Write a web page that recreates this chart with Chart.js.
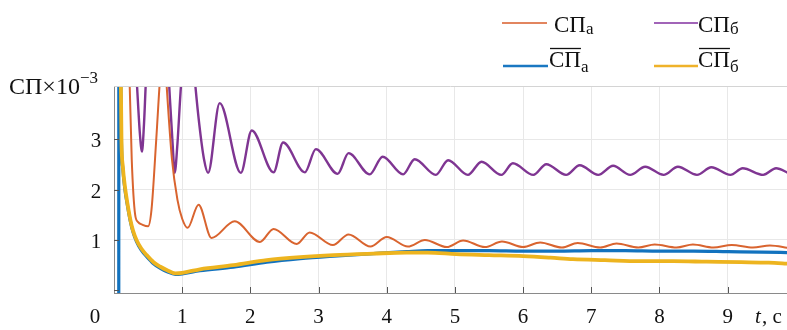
<!DOCTYPE html>
<html>
<head>
<meta charset="utf-8">
<script src="https://cdn.jsdelivr.net/npm/chart.js@4.4.0/dist/chart.umd.min.js"></script>
<style>
  html, body { margin: 0; padding: 0; background: #fff; }
  #grafico { display: block; }
</style>
</head>
<body>
<canvas id="grafico" width="787" height="330"></canvas>
<script>
// СПа (оранжевая)
const tempoSPa = [0.05, 0.2, 0.26, 0.31, 0.35, 0.42, 0.5, 0.55, 0.62, 0.68, 0.73, 0.77, 0.85, 0.93, 1.0, 1.08,
  1.24, 1.43, 1.77, 2.14, 2.34, 2.68, 2.87, 3.21, 3.44, 3.76, 4.0, 4.31, 4.56, 4.88, 5.12, 5.44, 5.69, 6.0,
  6.25, 6.57, 6.8, 7.13, 7.37, 7.69, 7.93, 8.25, 8.49, 8.79, 9.06, 9.37, 9.62, 9.9];
const valoresSPa = [8, 5.5, 2.6, 1.5, 1.36, 1.3, 1.27, 1.6, 3.0, 4.3, 5.0, 4.1, 2.6, 1.8, 1.42, 1.24,
  1.70, 1.04, 1.37, 0.96, 1.22, 0.92, 1.15, 0.90, 1.11, 0.87, 1.06, 0.87, 1.0, 0.86, 0.99, 0.86, 0.97, 0.86,
  0.95, 0.85, 0.94, 0.85, 0.93, 0.85, 0.91, 0.85, 0.91, 0.85, 0.90, 0.85, 0.89, 0.84];

// СПб (фиолетовая)
const tempoSPb = [0.05, 0.3, 0.34, 0.38, 0.41, 0.44, 0.47, 0.55, 0.7, 0.78, 0.82, 0.86, 0.89, 0.93, 0.97, 1.0,
  1.1, 1.19, 1.25, 1.32, 1.38, 1.55, 1.86, 2.02, 2.34, 2.48, 2.8, 2.96, 3.28, 3.44, 3.75, 3.94, 4.24, 4.41,
  4.72, 4.9, 5.19, 5.39, 5.68, 5.85, 6.15, 6.34, 6.63, 6.83, 7.1, 7.32, 7.57, 7.79, 8.06, 8.27, 8.55, 8.76,
  9.04, 9.22, 9.52, 9.71, 9.9];
const valoresSPb = [9, 5, 4.0, 3.1, 2.75, 3.3, 4.2, 5.5, 6, 4.8, 3.8, 2.9, 2.33, 2.9, 3.8, 4.4,
  5.5, 4.1, 3.3, 2.6, 2.33, 3.71, 2.33, 3.17, 2.34, 2.93, 2.34, 2.80, 2.31, 2.72, 2.30, 2.65, 2.30, 2.60,
  2.29, 2.58, 2.29, 2.55, 2.29, 2.52, 2.29, 2.50, 2.29, 2.48, 2.29, 2.47, 2.29, 2.45, 2.29, 2.45, 2.29, 2.44,
  2.29, 2.42, 2.29, 2.42, 2.32];

// среднее СПа (синяя)
const tempoMediaA = [0.07, 0.072, 0.1, 0.11, 0.13, 0.16, 0.2, 0.24, 0.28, 0.33, 0.4, 0.48, 0.58, 0.68, 0.78,
  0.9, 1.0, 1.26, 1.75, 2.24, 2.73, 3.22, 3.8, 4.29, 4.6, 5.0, 5.5, 6.0, 6.5, 7.0, 7.5, 8.0, 8.5, 9.0, 9.5, 9.9];
const valoresMediaA = [-0.05, 12, 4.1, 2.9, 2.4, 2.0, 1.66, 1.37, 1.15, 0.97, 0.80, 0.67, 0.53, 0.44, 0.37,
  0.32, 0.33, 0.39, 0.46, 0.56, 0.63, 0.68, 0.73, 0.77, 0.79, 0.79, 0.79, 0.78, 0.78, 0.79, 0.79, 0.78, 0.78,
  0.77, 0.76, 0.75];

// среднее СПб (жёлтая)
const tempoMediaB = [0.08, 0.1, 0.11, 0.13, 0.16, 0.2, 0.24, 0.28, 0.33, 0.4, 0.48, 0.58, 0.68, 0.78, 0.9,
  1.0, 1.26, 1.75, 2.24, 2.73, 3.22, 3.8, 4.29, 4.6, 5.02, 5.5, 6.0, 6.4, 6.73, 7.2, 7.71, 8.2, 8.69, 9.2, 9.6, 9.9];
const valoresMediaB = [8, 4.2, 2.95, 2.45, 2.06, 1.7, 1.40, 1.18, 1.0, 0.83, 0.70, 0.56, 0.47, 0.40, 0.34,
  0.35, 0.42, 0.50, 0.60, 0.66, 0.70, 0.73, 0.75, 0.75, 0.72, 0.70, 0.68, 0.65, 0.62, 0.60, 0.58, 0.58, 0.57,
  0.56, 0.55, 0.53];

const ticksX = [1, 2, 3, 4, 5, 6, 7, 8, 9];
const ticksY = [1, 2, 3];

const fonte = '"Liberation Serif", "Times New Roman", serif';

function montaPontos(tempo, valores) {
  return tempo.map((t, i) => ({ x: t, y: valores[i] }));
}

function linha(ctx, x1, y1, x2, y2) {
  ctx.beginPath();
  ctx.moveTo(x1, y1);
  ctx.lineTo(x2, y2);
  ctx.stroke();
}

// СП с индексом, с чертой сверху или без
function escreveSP(ctx, x, y, indice, barra) {
  ctx.font = '23px ' + fonte;
  ctx.textAlign = 'left';
  ctx.textBaseline = 'alphabetic';
  ctx.fillText('СП', x, y);
  const w = ctx.measureText('СП').width;
  if (barra) {
    ctx.lineWidth = 1.3;
    linha(ctx, x + 1, y - 18.5, x + w, y - 18.5);
  }
  ctx.font = '17px ' + fonte;
  ctx.fillText(indice, x + w, y + (barra ? 5 : 2));
}

const decoracao = {
  id: 'decoracao',
  afterDraw(chart) {
    const ctx = chart.ctx;
    const area = chart.chartArea;
    const sx = chart.scales.x;
    const sy = chart.scales.y;
    ctx.save();

    // рамка сверху
    ctx.strokeStyle = '#d4d4d4';
    ctx.lineWidth = 1;
    linha(ctx, area.left, area.top + 0.5, area.right, area.top + 0.5);

    // засечки внутрь
    ctx.strokeStyle = '#555';
    ticksX.forEach(v => {
      const px = Math.round(sx.getPixelForValue(v)) + 0.5;
      linha(ctx, px, area.bottom, px, area.bottom - 6);
    });
    ticksY.concat([0]).forEach(v => {
      const py = Math.round(sy.getPixelForValue(v)) + 0.5;
      linha(ctx, area.left, py, area.left + 5, py);
    });

    // подписи осей
    ctx.fillStyle = '#111';
    ctx.font = '21px ' + fonte;
    ctx.textAlign = 'center';
    ctx.textBaseline = 'alphabetic';
    ticksX.forEach(v => ctx.fillText(String(v), sx.getPixelForValue(v), 323));
    ctx.fillText('0', 95, 323);
    ticksY.forEach(v => ctx.fillText(String(v), 96, sy.getPixelForValue(v) + 8));

    ctx.textAlign = 'left';
    ctx.font = 'italic 21px ' + fonte;
    ctx.fillText('t', 755, 323);
    ctx.font = '21px ' + fonte;
    ctx.fillText(', с', 762, 323);

    ctx.font = '24px ' + fonte;
    ctx.fillText('СП×10', 9, 94);
    const wl = ctx.measureText('СП×10').width;
    ctx.font = '17px ' + fonte;
    ctx.fillText('−3', 9 + wl, 83);

    // легенда
    ctx.lineWidth = 2;
    ctx.strokeStyle = '#e2855f';
    linha(ctx, 502, 23, 547, 23);
    ctx.strokeStyle = '#a164b8';
    linha(ctx, 654, 23, 698, 23);
    ctx.lineWidth = 2.5;
    ctx.strokeStyle = '#1a78c2';
    linha(ctx, 503, 66, 548, 66);
    ctx.strokeStyle = '#efb22a';
    linha(ctx, 654, 66, 698, 66);

    ctx.fillStyle = '#111';
    ctx.strokeStyle = '#111';
    escreveSP(ctx, 554, 32, 'а', false);
    escreveSP(ctx, 698, 32, 'б', false);
    escreveSP(ctx, 549, 67, 'а', true);
    escreveSP(ctx, 698, 67, 'б', true);

    ctx.restore();
  }
};

function geraGrafico() {
  const canvaGrafico = document.getElementById('grafico');

  new Chart(canvaGrafico, {
    type: 'line',
    data: {
      datasets: [{
        label: 'СПа',
        data: montaPontos(tempoSPa, valoresSPa),
        borderColor: '#d9642f',
        borderWidth: 2,
        order: 2
      }, {
        label: 'СПб',
        data: montaPontos(tempoSPb, valoresSPb),
        borderColor: '#7f3592',
        borderWidth: 2.4,
        order: 3
      }, {
        label: 'СПа ср',
        data: montaPontos(tempoMediaA, valoresMediaA),
        borderColor: '#1272be',
        borderWidth: 3.2,
        order: 1
      }, {
        label: 'СПб ср',
        data: montaPontos(tempoMediaB, valoresMediaB),
        borderColor: '#edb41f',
        borderWidth: 3.8,
        order: 0
      }]
    },
    options: {
      responsive: false,
      animation: false,
      devicePixelRatio: 1,
      layout: { padding: { left: 114, top: 86, right: 0, bottom: 37 } },
      elements: {
        point: { radius: 0 },
        line: { cubicInterpolationMode: 'monotone', fill: false }
      },
      plugins: {
        legend: { display: false },
        tooltip: { enabled: false }
      },
      scales: {
        x: {
          type: 'linear',
          min: 0,
          max: 9.87,
          afterBuildTicks: scale => { scale.ticks = ticksX.map(v => ({ value: v })); },
          ticks: { display: false },
          grid: { color: '#e8e8e8', drawTicks: false },
          border: { color: '#8a8a8a', width: 1 }
        },
        y: {
          min: -0.05,
          max: 4.05,
          afterBuildTicks: scale => { scale.ticks = ticksY.map(v => ({ value: v })); },
          ticks: { display: false },
          grid: { color: '#e8e8e8', drawTicks: false },
          border: { color: '#8a8a8a', width: 1 }
        }
      }
    },
    plugins: [decoracao]
  });
}

geraGrafico();
</script>
</body>
</html>
